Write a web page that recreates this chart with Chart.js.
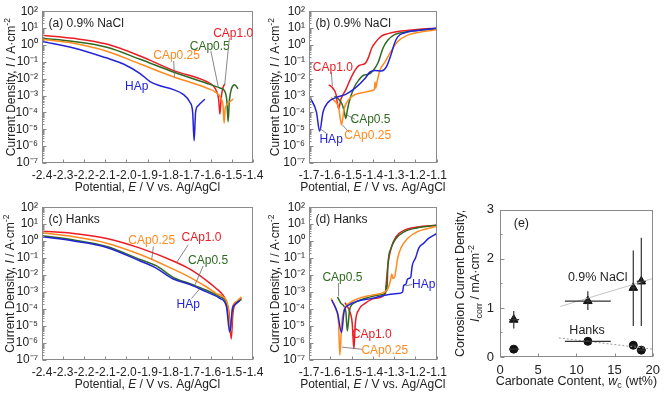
<!DOCTYPE html>
<html>
<head>
<meta charset="utf-8">
<script src="https://cdn.jsdelivr.net/npm/chart.js@4.4.0/dist/chart.umd.min.js"></script>
<style>
body { margin: 0; background: #fff; }
#wrap { position: relative; width: 666px; height: 393px; overflow: hidden; background: #fff; }
canvas { position: absolute; }
</style>
</head>
<body>
<div id="wrap">
  <canvas id="pa" width="270" height="196" style="left:0;top:0"></canvas>
  <canvas id="pb" width="190" height="196" style="left:262px;top:0"></canvas>
  <canvas id="pc" width="270" height="197" style="left:0;top:196px"></canvas>
  <canvas id="pd" width="190" height="197" style="left:262px;top:196px"></canvas>
  <canvas id="pe" width="214" height="197" style="left:452px;top:196px"></canvas>
</div>
<script>
const fontFam = "'Liberation Sans', Arial, sans-serif";

// series order: HAp, CAp0.25, CAp0.5, CAp1.0
const seriesNames = ['HAp', 'CAp0.25', 'CAp0.5', 'CAp1.0'];
const seriesColors = ['#2323d8', '#ff8a1e', '#2f6b20', '#ec1c24'];

const decadeExps = [-7, -6, -5, -4, -3, -2, -1, 0, 1, 2];
const decadeLabels = ['10⁻⁷', '10⁻⁶', '10⁻⁵', '10⁻⁴', '10⁻³', '10⁻²', '10⁻¹', '10⁰', '10¹', '10²'];
const cathodicTicks = [-2.4, -2.3, -2.2, -2.1, -2.0, -1.9, -1.8, -1.7, -1.6, -1.5, -1.4];
const anodicTicks = [-1.7, -1.6, -1.5, -1.4, -1.3, -1.2, -1.1];

// [potential E (V), log10 of current density I (A/cm2)]
// (a) 0.9% NaCl, cathodic
const naclCathHAp = [[-2.4, 0.2], [-2.25, -0.18], [-2.1, -0.75], [-2.014, -1.13], [-1.935, -1.7], [-1.888, -2.17], [-1.841, -2.42], [-1.778, -2.65], [-1.731, -2.93], [-1.699, -3.4], [-1.686, -3.98], [-1.679, -5.68], [-1.672, -3.98], [-1.66, -3.6], [-1.628, -3.22]];
const naclCathCAp025 = [[-2.4, 0.33], [-2.25, 0.1], [-2.093, -0.37], [-1.935, -1.13], [-1.778, -1.89], [-1.62, -2.55], [-1.573, -2.84], [-1.55, -3.2], [-1.542, -3.6], [-1.537, -4.64], [-1.532, -3.8], [-1.526, -3.6], [-1.494, -3.2]];
const naclCathCAp05 = [[-2.4, 0.39], [-2.25, 0.2], [-2.093, -0.14], [-1.935, -0.85], [-1.778, -1.6], [-1.62, -2.27], [-1.557, -2.55], [-1.534, -2.74], [-1.524, -3.3], [-1.518, -4.55], [-1.512, -3.3], [-1.502, -2.6], [-1.487, -2.36], [-1.471, -2.6]];
const naclCathCAp10 = [[-2.4, 0.58], [-2.25, 0.39], [-2.093, 0.05], [-1.935, -0.66], [-1.778, -1.51], [-1.62, -2.17], [-1.59, -2.4], [-1.573, -2.74], [-1.563, -3.2], [-1.557, -4.1], [-1.551, -3.2], [-1.545, -2.65], [-1.534, -2.3]];

// (b) 0.9% NaCl, anodic
const naclAnodHAp = [[-1.695, -3.12], [-1.665, -3.98], [-1.65, -5.12], [-1.634, -3.98], [-1.611, -3.41], [-1.573, -3.12], [-1.527, -2.93], [-1.482, -2.55], [-1.436, -1.98], [-1.413, -1.6], [-1.39, -1.51], [-1.36, -1.55], [-1.337, -1.32], [-1.314, -0.56], [-1.298, 0.1], [-1.283, 0.48], [-1.253, 0.71], [-1.192, 0.86], [-1.1, 0.99]];
const naclAnodCAp025 = [[-1.596, -3.12], [-1.581, -3.31], [-1.561, -3.69], [-1.547, -4.74], [-1.535, -3.79], [-1.512, -3.22], [-1.482, -2.93], [-1.436, -2.8], [-1.398, -2.69], [-1.392, -2.6], [-1.39, -2.2], [-1.386, -2.55], [-1.382, -2.3], [-1.367, -1.51], [-1.344, -1.04], [-1.314, -0.37], [-1.283, 0.2], [-1.237, 0.58], [-1.176, 0.77], [-1.1, 0.9]];
const naclAnodCAp05 = [[-1.581, -3.05], [-1.561, -3.2], [-1.545, -3.5], [-1.535, -3.9], [-1.527, -4.36], [-1.52, -3.9], [-1.512, -3.41], [-1.489, -2.55], [-1.466, -2.08], [-1.444, -1.8], [-1.421, -1.74], [-1.398, -1.51], [-1.375, -1.04], [-1.352, -0.18], [-1.329, 0.29], [-1.298, 0.61], [-1.253, 0.76], [-1.192, 0.86], [-1.1, 0.96]];
const naclAnodCAp10 = [[-1.607, -2.36], [-1.589, -2.55], [-1.573, -2.93], [-1.561, -3.79], [-1.55, -3.22], [-1.527, -2.65], [-1.497, -1.8], [-1.466, -1.23], [-1.436, -1.09], [-1.421, -0.75], [-1.405, -0.18], [-1.382, 0.24], [-1.36, 0.52], [-1.329, 0.67], [-1.283, 0.8], [-1.192, 0.92], [-1.1, 0.99]];

// (c) Hanks, cathodic
const hanksCathHAp = [[-2.4, 0.26], [-2.25, 0.01], [-2.093, -0.37], [-1.935, -1.17], [-1.857, -1.6], [-1.778, -2.23], [-1.699, -2.55], [-1.62, -2.99], [-1.557, -3.37], [-1.526, -3.85], [-1.51, -5.38], [-1.497, -3.95], [-1.487, -3.75], [-1.463, -3.5]];
const hanksCathCAp025 = [[-2.4, 0.49], [-2.25, 0.26], [-2.093, -0.12], [-1.935, -0.79], [-1.778, -1.65], [-1.699, -2.13], [-1.62, -2.7], [-1.573, -3.09], [-1.542, -3.28], [-1.518, -3.85], [-1.506, -5.38], [-1.497, -3.9], [-1.479, -3.56], [-1.455, -3.28]];
const hanksCathCAp05 = [[-2.4, 0.32], [-2.25, 0.07], [-2.093, -0.31], [-1.935, -1.08], [-1.857, -1.46], [-1.778, -2.13], [-1.699, -2.51], [-1.62, -2.89], [-1.557, -3.28], [-1.526, -3.66], [-1.507, -5.19], [-1.495, -3.9], [-1.479, -3.66], [-1.455, -3.43]];
const hanksCathCAp10 = [[-2.4, 0.59], [-2.25, 0.45], [-2.093, 0.16], [-1.935, -0.41], [-1.778, -1.17], [-1.699, -1.65], [-1.62, -2.32], [-1.573, -2.8], [-1.542, -3.18], [-1.526, -3.56], [-1.513, -4.23], [-1.503, -5.76], [-1.495, -4.23], [-1.479, -3.66], [-1.455, -3.37]];

// (d) Hanks, anodic
const hanksAnodHAp = [[-1.593, -3.47], [-1.566, -4.23], [-1.547, -5.38], [-1.535, -4.14], [-1.512, -3.75], [-1.466, -3.51], [-1.405, -3.37], [-1.344, -3.18], [-1.283, -3.09], [-1.26, -2.99], [-1.255, -2.61], [-1.245, -2.55], [-1.237, -2.23], [-1.222, -2.13], [-1.215, -1.46], [-1.199, -0.98], [-1.184, -0.41], [-1.161, -0.12], [-1.138, 0.16], [-1.1, 0.45]];
const hanksAnodCAp025 = [[-1.596, -3.37], [-1.573, -4.04], [-1.561, -4.81], [-1.555, -6.72], [-1.546, -4.81], [-1.535, -4.04], [-1.512, -3.66], [-1.466, -3.37], [-1.405, -3.18], [-1.344, -2.99], [-1.329, -2.8], [-1.317, -2.32], [-1.311, -1.94], [-1.305, -2.2], [-1.298, -2.13], [-1.291, -1.65], [-1.283, -0.98], [-1.268, -0.41], [-1.237, 0.16], [-1.192, 0.55], [-1.1, 0.87]];
const hanksAnodCAp05 = [[-1.566, -3.28], [-1.55, -3.66], [-1.527, -4.14], [-1.52, -5.29], [-1.509, -4.04], [-1.489, -3.66], [-1.436, -3.37], [-1.375, -3.18], [-1.341, -3.05], [-1.337, -2.61], [-1.334, -2.95], [-1.329, -1.37], [-1.314, -0.41], [-1.291, 0.16], [-1.253, 0.55], [-1.192, 0.78], [-1.1, 0.93]];
const hanksAnodCAp10 = [[-1.531, -3.62], [-1.512, -4.04], [-1.497, -4.81], [-1.489, -6.34], [-1.482, -4.81], [-1.466, -4.04], [-1.436, -3.66], [-1.39, -3.37], [-1.341, -3.09], [-1.337, -2.51], [-1.329, -1.37], [-1.314, -0.41], [-1.291, 0.26], [-1.253, 0.64], [-1.192, 0.83], [-1.1, 0.93]];

// (e) corrosion current density vs carbonate content
const carbonate = [1.8, 11.5, 17.45, 18.5];
const carbonateLo = [1.2, 8.5, 17.1, 17.9];
const carbonateHi = [2.5, 14.5, 17.8, 19.1];
const naclIcorr = [0.76, 1.14, 1.41, 1.54];
const naclIcorrLo = [0.58, 0.96, 0.63, 0.63];
const naclIcorrHi = [0.94, 1.34, 2.17, 2.43];
const hanksIcorr = [0.16, 0.32, 0.24, 0.14];
const naclFit = [[7.9, 1.03], [20, 1.6]];
const hanksFit = [[7.7, 0.39], [20, 0.16]];
const eXTicks = [0, 5, 10, 15, 20];
const eYTicks = [0, 1, 2, 3];

// axis titles
const potentialTitle = [{ t: 'Potential, ' }, { t: 'E', i: true }, { t: ' / V vs. Ag/AgCl' }];
const currentTitle = [{ t: 'Current Density, ' }, { t: 'I', i: true }, { t: ' / A·cm' }, { t: '-2', sup: true }];

function richText(ctx, segs, cx, cy, rot, size) {
  const fontOf = s => (s.i ? 'italic ' : '') + ((s.sup || s.sub) ? size * 0.72 : size) + 'px ' + fontFam;
  ctx.save();
  ctx.translate(cx, cy);
  if (rot) ctx.rotate(rot);
  let w = 0;
  segs.forEach(s => { ctx.font = fontOf(s); w += ctx.measureText(s.t).width; });
  let x = -w / 2;
  ctx.textBaseline = 'middle';
  ctx.textAlign = 'left';
  ctx.fillStyle = '#222';
  segs.forEach(s => {
    ctx.font = fontOf(s);
    ctx.fillText(s.t, x, s.sup ? -size * 0.38 : s.sub ? size * 0.3 : 0);
    x += ctx.measureText(s.t).width;
  });
  ctx.restore();
}

function deco(cfg) {
  return {
    id: 'deco',
    afterDatasetsDraw(chart) {
      const { ctx, chartArea: a, scales: { x, y } } = chart;
      const yv = v => cfg.logY ? 10 ** v : v;
      const L = Math.round(a.left) + 0.5, B = Math.round(a.bottom) - 0.5;
      ctx.save();
      if (cfg.errors) cfg.errors(ctx, x, y);
      ctx.strokeStyle = '#8a8a8a';
      ctx.lineWidth = 1;
      ctx.strokeRect(L, Math.round(a.top) + 0.5, Math.round(a.right) - Math.round(a.left) - 1, Math.round(a.bottom) - Math.round(a.top) - 1);
      ctx.beginPath();
      x.ticks.forEach(t => {
        const px = Math.round(x.getPixelForValue(t.value)) + 0.5;
        ctx.moveTo(px, B); ctx.lineTo(px, B - 3);
      });
      if (cfg.logY) {
        for (let e = -7; e <= 1; e++) {
          for (let m = 1; m <= 9; m++) {
            const py = Math.round(y.getPixelForValue(m * 10 ** e)) + 0.5;
            ctx.moveTo(L, py); ctx.lineTo(L + (m === 1 ? 4 : 2), py);
          }
        }
      } else {
        cfg.yMinor.forEach(v => {
          const py = Math.round(y.getPixelForValue(v)) + 0.5;
          ctx.moveTo(L, py); ctx.lineTo(L + (Number.isInteger(v) ? 4 : 2), py);
        });
      }
      ctx.stroke();
      // callouts
      ctx.strokeStyle = '#6a6a6a';
      ctx.lineWidth = 0.8;
      cfg.notes.forEach(n => {
        if (n.lead) {
          ctx.beginPath();
          ctx.moveTo(x.getPixelForValue(n.lead[0]), y.getPixelForValue(yv(n.lead[1])));
          ctx.lineTo(x.getPixelForValue(n.lead[2]), y.getPixelForValue(yv(n.lead[3])));
          ctx.stroke();
        }
        ctx.font = (n.size || 12) + 'px ' + fontFam;
        ctx.fillStyle = n.color;
        ctx.textAlign = 'center';
        ctx.textBaseline = 'middle';
        ctx.fillText(n.text, x.getPixelForValue(n.x), y.getPixelForValue(yv(n.y)));
      });
      // panel tag
      if (cfg.tag) {
        ctx.font = '12px ' + fontFam;
        ctx.fillStyle = '#222';
        ctx.textAlign = 'left';
        ctx.textBaseline = 'middle';
        ctx.fillText(cfg.tag, a.left + 6.5, a.top + 12);
      }
      // axis titles
      richText(ctx, cfg.xTitle, (a.left + a.right) / 2, a.bottom + cfg.xTitleOff, 0, cfg.titleSize);
      cfg.yTitles.forEach(t => richText(ctx, t.segs, a.left + t.off, (a.top + a.bottom) / 2, -Math.PI / 2, cfg.titleSize));
      ctx.restore();
    }
  };
}

function polPanel(id, curves, xTicks, cfg) {
  new Chart(document.getElementById(id), {
    type: 'line',
    data: {
      datasets: curves.map((c, i) => ({
        data: c.map(p => ({ x: p[0], y: 10 ** p[1] })),
        borderColor: seriesColors[i],
        borderWidth: 1.5,
        pointRadius: 0,
        cubicInterpolationMode: 'monotone',
        fill: false
      }))
    },
    options: {
      responsive: false,
      animation: false,
      events: [],
      layout: { padding: cfg.pad },
      plugins: { legend: { display: false }, tooltip: { enabled: false } },
      scales: {
        x: {
          type: 'linear',
          min: xTicks[0],
          max: xTicks[xTicks.length - 1],
          afterBuildTicks: s => { s.ticks = xTicks.map(v => ({ value: v })); },
          afterFit: s => { s.height = cfg.xH; },
          grid: { display: false, drawTicks: false },
          border: { display: false },
          ticks: { autoSkip: false, maxRotation: 0, padding: 5, color: '#222', font: { family: fontFam, size: 12 }, callback: v => v.toFixed(1) }
        },
        y: {
          type: 'logarithmic',
          min: 1e-7,
          max: 1e2,
          afterBuildTicks: s => { s.ticks = decadeExps.map(e => ({ value: 10 ** e })); },
          afterFit: s => { s.width = cfg.yW; },
          grid: { display: false, drawTicks: false },
          border: { display: false },
          ticks: { autoSkip: false, padding: 4, color: '#222', font: { family: fontFam, size: 12 }, callback: (v, i) => decadeLabels[i] }
        }
      }
    },
    plugins: [deco(Object.assign({ logY: true, xTitle: potentialTitle, xTitleOff: 25, titleSize: 12 }, cfg))]
  });
}

const C = seriesColors;

polPanel('pa', [naclCathHAp, naclCathCAp025, naclCathCAp05, naclCathCAp10], cathodicTicks, {
  pad: { top: 5, right: 17, left: 0, bottom: 0 }, xH: 33, yW: 42,
  tag: '(a) 0.9% NaCl',
  yTitles: [{ segs: currentTitle, off: -30 }],
  notes: [
    { text: seriesNames[0], color: C[0], x: -1.951, y: -2.46 },
    { text: seriesNames[1], color: C[1], x: -1.762, y: -0.66, lead: [-1.776, -0.95, -1.772, -1.9] },
    { text: seriesNames[2], color: C[2], x: -1.605, y: -0.09, lead: [-1.6, -0.35, -1.565, -2.46] },
    { text: seriesNames[3], color: C[3], x: -1.494, y: 0.67, lead: [-1.512, 0.4, -1.534, -2.36] }
  ]
});

polPanel('pb', [naclAnodHAp, naclAnodCAp025, naclAnodCAp05, naclAnodCAp10], anodicTicks, {
  pad: { top: 5, right: 12, left: 0, bottom: 0 }, xH: 33, yW: 47,
  tag: '(b) 0.9% NaCl',
  yTitles: [{ segs: currentTitle, off: -33 }],
  notes: [
    { text: seriesNames[0], color: C[0], x: -1.596, y: -5.59, lead: [-1.611, -5.3, -1.65, -4.95] },
    { text: seriesNames[1], color: C[1], x: -1.424, y: -5.4, lead: [-1.51, -5.2, -1.543, -4.74] },
    { text: seriesNames[2], color: C[2], x: -1.411, y: -4.45, lead: [-1.484, -4.4, -1.52, -4.17] },
    { text: seriesNames[3], color: C[3], x: -1.588, y: -1.32, lead: [-1.595, -1.6, -1.59, -2.45] }
  ]
});

polPanel('pc', [hanksCathHAp, hanksCathCAp025, hanksCathCAp05, hanksCathCAp10], cathodicTicks, {
  pad: { top: 7, right: 17, left: 0, bottom: 0 }, xH: 33, yW: 42,
  tag: '(c) Hanks',
  yTitles: [{ segs: currentTitle, off: -31 }],
  notes: [
    { text: seriesNames[0], color: C[0], x: -1.707, y: -3.76, lead: [-1.691, -3.37, -1.652, -2.8] },
    { text: seriesNames[1], color: C[1], x: -1.88, y: 0.01, lead: [-1.872, -0.31, -1.88, -1.08] },
    { text: seriesNames[2], color: C[2], x: -1.613, y: -1.17, lead: [-1.636, -1.46, -1.676, -2.6] },
    { text: seriesNames[3], color: C[3], x: -1.644, y: 0.2, lead: [-1.707, -0.22, -1.762, -1.25] }
  ]
});

polPanel('pd', [hanksAnodHAp, hanksAnodCAp025, hanksAnodCAp05, hanksAnodCAp10], anodicTicks, {
  pad: { top: 7, right: 12, left: 0, bottom: 0 }, xH: 33, yW: 47,
  tag: '(d) Hanks',
  yTitles: [{ segs: currentTitle, off: -33 }],
  notes: [
    { text: seriesNames[0], color: C[0], x: -1.161, y: -2.55, lead: [-1.214, -2.55, -1.245, -2.63] },
    { text: seriesNames[1], color: C[1], x: -1.344, y: -6.43, lead: [-1.451, -6.37, -1.546, -6.24] },
    { text: seriesNames[2], color: C[2], x: -1.543, y: -2.13, lead: [-1.561, -2.47, -1.561, -3.24] },
    { text: seriesNames[3], color: C[3], x: -1.405, y: -5.53, lead: [-1.459, -5.38, -1.489, -5.0] }
  ]
});

// (e)
function drawErrorBars(ctx, x, y) {
  ctx.strokeStyle = '#333';
  ctx.lineWidth = 1.2;
  ctx.beginPath();
  carbonate.forEach((w, i) => {
    const px = x.getPixelForValue(w);
    ctx.moveTo(px, y.getPixelForValue(naclIcorrLo[i]));
    ctx.lineTo(px, y.getPixelForValue(naclIcorrHi[i]));
    [naclIcorr[i], hanksIcorr[i]].forEach(v => {
      const py = y.getPixelForValue(v);
      ctx.moveTo(x.getPixelForValue(carbonateLo[i]), py);
      ctx.lineTo(x.getPixelForValue(carbonateHi[i]), py);
    });
  });
  ctx.stroke();
}

const eTitleY1 = [{ t: 'Corrosion Current Density,' }];
const eTitleY2 = [{ t: 'I', i: true }, { t: 'corr', sub: true }, { t: ' / mA·cm' }, { t: '-2', sup: true }];
const eTitleX = [{ t: 'Carbonate Content, ' }, { t: 'w', i: true }, { t: 'c', sub: true }, { t: ' (wt%)' }];

new Chart(document.getElementById('pe'), {
  type: 'scatter',
  data: {
    datasets: [
      { type: 'line', data: naclFit.map(p => ({ x: p[0], y: p[1] })), borderColor: '#c4c4c4', borderWidth: 1, pointRadius: 0 },
      { type: 'line', data: hanksFit.map(p => ({ x: p[0], y: p[1] })), borderColor: '#9a9a9a', borderWidth: 1, borderDash: [2, 2], pointRadius: 0 },
      { data: carbonate.map((w, i) => ({ x: w, y: naclIcorr[i] })), pointStyle: 'triangle', pointRadius: 5, backgroundColor: '#111', borderColor: '#111' },
      { data: carbonate.map((w, i) => ({ x: w, y: hanksIcorr[i] })), pointStyle: 'circle', pointRadius: 4, backgroundColor: '#111', borderColor: '#111' }
    ]
  },
  options: {
    responsive: false,
    animation: false,
    events: [],
    layout: { padding: { top: 8, right: 9, left: 0, bottom: 0 } },
    plugins: { legend: { display: false }, tooltip: { enabled: false } },
    scales: {
      x: {
        type: 'linear', min: 0, max: 20,
        afterBuildTicks: s => { s.ticks = eXTicks.map(v => ({ value: v })); },
        afterFit: s => { s.height = 36; },
        grid: { display: false, drawTicks: false }, border: { display: false },
        ticks: { autoSkip: false, padding: 6, color: '#222', font: { family: fontFam, size: 13 } }
      },
      y: {
        type: 'linear', min: 0, max: 3,
        afterBuildTicks: s => { s.ticks = eYTicks.map(v => ({ value: v })); },
        afterFit: s => { s.width = 48; },
        grid: { display: false, drawTicks: false }, border: { display: false },
        ticks: { autoSkip: false, padding: 6, color: '#222', font: { family: fontFam, size: 13 } }
      }
    }
  },
  plugins: [deco({
    logY: false,
    yMinor: [0, 0.5, 1, 1.5, 2, 2.5, 3],
    errors: drawErrorBars,
    xTitle: eTitleX, xTitleOff: 25, titleSize: 12.5,
    yTitles: [{ segs: eTitleY1, off: -39 }, { segs: eTitleY2, off: -24 }],
    notes: [
      { text: '(e)', color: '#222', x: 2.8, y: 2.71, size: 12.5 },
      { text: '0.9% NaCl', color: '#222', x: 12.8, y: 1.61, size: 12.5 },
      { text: 'Hanks', color: '#222', x: 11.4, y: 0.54, size: 12.5 }
    ]
  })]
});
</script>
</body>
</html>
